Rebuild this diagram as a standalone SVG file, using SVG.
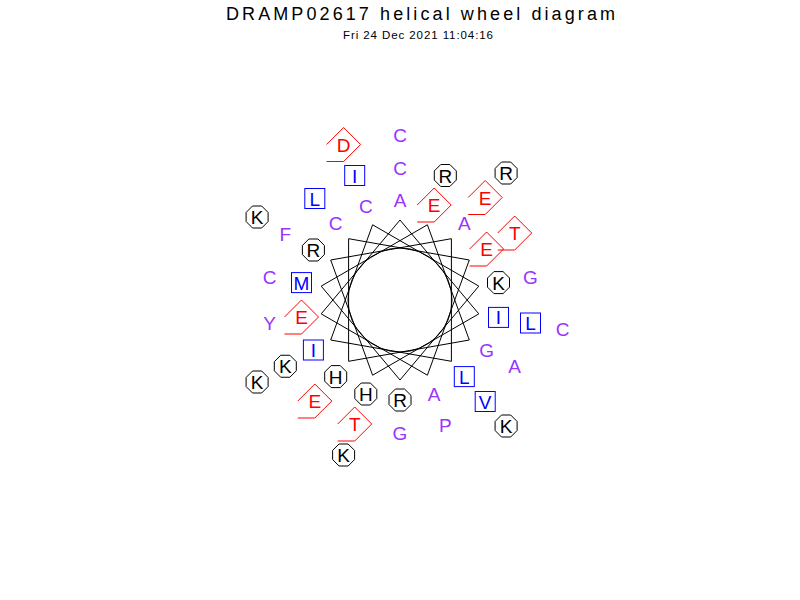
<svg xmlns="http://www.w3.org/2000/svg" xmlns:xlink="http://www.w3.org/1999/xlink" width="800" height="600" viewBox="0 0 800 600">
<style>
text{font-family:"Liberation Sans Narrow","Liberation Sans",Arial,sans-serif;}
.t{font-size:18px;fill:#000;}
.s{font-size:11.5px;fill:#000;}
.l{font-size:19px;text-anchor:middle;}
.pho{fill:#9933ff;}
.blu{fill:#0000ff;}
.red{fill:#ff0000;}
.blk{fill:#000000;}
.sq{fill:none;stroke:#0000ff;stroke-width:1;}
.oc{fill:none;stroke:#000;stroke-width:1;}
.pt{fill:none;stroke:#ff0000;stroke-width:1;}
.wh{fill:none;stroke:#000;stroke-width:1;}
</style>
<defs>
<rect id="sq" x="-10" y="-10" width="20" height="20" class="sq"/>
<polygon id="oc" points="11,-4.56 4.56,-11 -4.56,-11 -11,-4.56 -11,4.56 -4.56,11 4.56,11 11,4.56" class="oc"/>
<path id="pt" d="M-17,0 L0,-17 L17,0 L0,17 L-17,17" class="pt"/>
</defs>
<rect width="800" height="600" fill="#fff"/>
<text class="t" x="226" y="20" textLength="389" lengthAdjust="spacing">DRAMP02617 helical wheel diagram</text>
<text class="s" x="343" y="39" textLength="150" lengthAdjust="spacing">Fri 24 Dec 2021 11:04:16</text>
<g id="connectors">
<polygon class="wh" points="400,220 478.8,313.9 372.6,375.2 330.7,260 451.4,238.7 451.4,361.3 330.7,340 372.6,224.8 478.8,286.1 400,380 321.2,286.1 427.4,224.8 469.3,340 348.6,361.3 348.6,238.7 469.3,260 427.4,375.2 321.2,313.9"/>
<circle class="wh" cx="400" cy="300" r="52"/>
</g>
<g id="r1"><text class="l pho" x="400" y="207">A</text></g>
<g id="r2"><use xlink:href="#sq" x="498.5" y="317.4"/><text class="l blu" x="498.5" y="324.4">I</text></g>
<g id="r3"><use xlink:href="#oc" x="365.8" y="394"/><text class="l blk" x="365.8" y="401">H</text></g>
<g id="r4"><use xlink:href="#oc" x="313.4" y="250"/><text class="l blk" x="313.4" y="257">R</text></g>
<g id="r5"><text class="l pho" x="464.3" y="230.4">A</text></g>
<g id="r6"><use xlink:href="#sq" x="464.3" y="376.6"/><text class="l blu" x="464.3" y="383.6">L</text></g>
<g id="r7"><use xlink:href="#sq" x="313.4" y="350"/><text class="l blu" x="313.4" y="357">I</text></g>
<g id="r8"><text class="l pho" x="365.8" y="213">C</text></g>
<g id="r9"><use xlink:href="#oc" x="498.5" y="282.6"/><text class="l blk" x="498.5" y="289.6">K</text></g>
<g id="r10"><use xlink:href="#oc" x="400" y="400"/><text class="l blk" x="400" y="407">R</text></g>
<g id="r11"><use xlink:href="#sq" x="301.5" y="282.6"/><text class="l blu" x="301.5" y="289.6">M</text></g>
<g id="r12"><use xlink:href="#pt" x="434.2" y="205"/><text class="l red" x="434.2" y="212">E</text></g>
<g id="r13"><text class="l pho" x="486.6" y="357">G</text></g>
<g id="r14"><use xlink:href="#oc" x="335.7" y="376.6"/><text class="l blk" x="335.7" y="383.6">H</text></g>
<g id="r15"><text class="l pho" x="335.7" y="230.4">C</text></g>
<g id="r16"><use xlink:href="#pt" x="486.6" y="249"/><text class="l red" x="486.6" y="256">E</text></g>
<g id="r17"><text class="l pho" x="434.2" y="401">A</text></g>
<g id="r18"><use xlink:href="#pt" x="301.5" y="317"/><text class="l red" x="301.5" y="324">E</text></g>
<g id="r19"><text class="l pho" x="400" y="174.5">C</text></g>
<g id="r20"><use xlink:href="#sq" x="530.5" y="323"/><text class="l blu" x="530.5" y="330">L</text></g>
<g id="r21"><use xlink:href="#pt" x="354.7" y="424"/><text class="l red" x="354.7" y="431">T</text></g>
<g id="r22"><text class="l pho" x="285.3" y="240.75">F</text></g>
<g id="r23"><use xlink:href="#pt" x="485.2" y="197.5"/><text class="l red" x="485.2" y="204.5">E</text></g>
<g id="r24"><use xlink:href="#sq" x="485.2" y="401.5"/><text class="l blu" x="485.2" y="408.5">V</text></g>
<g id="r25"><use xlink:href="#oc" x="285.3" y="366.25"/><text class="l blk" x="285.3" y="373.25">K</text></g>
<g id="r26"><use xlink:href="#sq" x="354.7" y="175.5"/><text class="l blu" x="354.7" y="182.5">I</text></g>
<g id="r27"><text class="l pho" x="530.5" y="284">G</text></g>
<g id="r28"><text class="l pho" x="400" y="439.5">G</text></g>
<g id="r29"><text class="l pho" x="269.5" y="284">C</text></g>
<g id="r30"><use xlink:href="#oc" x="445.3" y="175.5"/><text class="l blk" x="445.3" y="182.5">R</text></g>
<g id="r31"><text class="l pho" x="514.7" y="373.25">A</text></g>
<g id="r32"><use xlink:href="#pt" x="314.8" y="401"/><text class="l red" x="314.8" y="408">E</text></g>
<g id="r33"><use xlink:href="#sq" x="314.8" y="198.5"/><text class="l blu" x="314.8" y="205.5">L</text></g>
<g id="r34"><use xlink:href="#pt" x="514.7" y="233"/><text class="l red" x="514.7" y="240">T</text></g>
<g id="r35"><text class="l pho" x="445.3" y="431.5">P</text></g>
<g id="r36"><text class="l pho" x="269.5" y="330">Y</text></g>
<g id="r37"><text class="l pho" x="400" y="142">C</text></g>
<g id="r38"><text class="l pho" x="562.5" y="335.6">C</text></g>
<g id="r39"><use xlink:href="#oc" x="343.6" y="455"/><text class="l blk" x="343.6" y="462">K</text></g>
<g id="r40"><use xlink:href="#oc" x="257.1" y="217"/><text class="l blk" x="257.1" y="224">K</text></g>
<g id="r41"><use xlink:href="#oc" x="506.1" y="173"/><text class="l blk" x="506.1" y="180">R</text></g>
<g id="r42"><use xlink:href="#oc" x="506.1" y="426"/><text class="l blk" x="506.1" y="433">K</text></g>
<g id="r43"><use xlink:href="#oc" x="257.1" y="382"/><text class="l blk" x="257.1" y="389">K</text></g>
<g id="r44"><use xlink:href="#pt" x="343.6" y="144.5"/><text class="l red" x="343.6" y="151.5">D</text></g>
</svg>
